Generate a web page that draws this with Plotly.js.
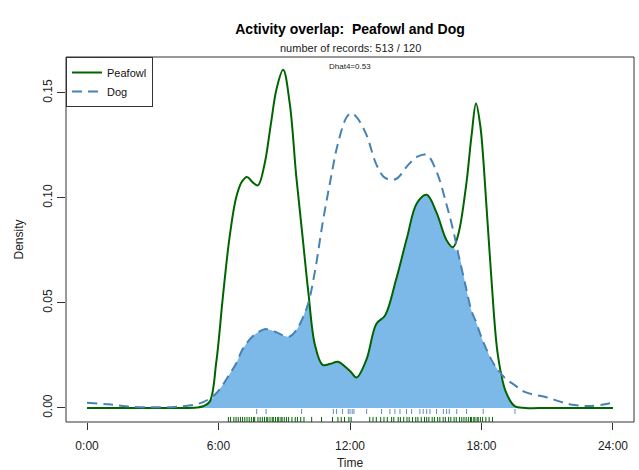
<!DOCTYPE html>
<html>
<head>
<meta charset="utf-8">
<script src="https://cdn.plot.ly/plotly-3.0.1.min.js"></script>
<style>
  html, body { margin: 0; padding: 0; background: #fff; }
  #chart { width: 639px; height: 470px; }
</style>
</head>
<body>
<div id="chart"></div>
<script>
// Kernel density estimates of activity time (hours of the day)
const times = [0, 1, 2, 3, 4, 4.5, 5, 5.3, 5.6, 5.9, 6.2, 6.5, 6.8, 7.05, 7.3, 7.55, 7.8, 8.1, 8.4, 8.65,
  8.95, 9.25, 9.55, 9.85, 10.1, 10.4, 10.75, 11.1, 11.45, 11.85, 12.05, 12.3, 12.75, 13.2, 13.6, 14.1,
  14.6, 15.05, 15.5, 15.95, 16.4, 16.7, 16.95, 17.3, 17.55, 17.75, 17.95, 18.1, 18.45, 18.75, 19.1,
  19.5, 20, 21, 22, 23, 24];

const peafowlDensity = [0, 0, 0, 0, 0, 0, 0.0002, 0.0008, 0.003, 0.022, 0.053, 0.081, 0.100, 0.1075,
  0.110, 0.1075, 0.106, 0.116, 0.136, 0.152, 0.161, 0.145, 0.110, 0.080, 0.055, 0.030, 0.0205, 0.021,
  0.022, 0.019, 0.017, 0.0145, 0.023, 0.040, 0.044, 0.061, 0.081, 0.0975, 0.1015, 0.093, 0.080,
  0.0765, 0.083, 0.106, 0.130, 0.145, 0.134, 0.116, 0.062, 0.025, 0.008, 0.001, 0, 0, 0, 0, 0];

const dogDensity = [0.0025, 0.0017, 0.0006, 0.0003, 0.0005, 0.0009, 0.0018, 0.0028, 0.0045, 0.007,
  0.011, 0.016, 0.021, 0.027, 0.031, 0.034, 0.036, 0.0375, 0.037, 0.036, 0.0345, 0.034, 0.037, 0.043,
  0.050, 0.065, 0.088, 0.108, 0.126, 0.1385, 0.1403, 0.1385, 0.130, 0.116, 0.1095, 0.109, 0.115,
  0.1195, 0.1205, 0.1125, 0.097, 0.085, 0.073, 0.057, 0.046, 0.041, 0.035, 0.031, 0.023, 0.018,
  0.014, 0.011, 0.0075, 0.005, 0.0018, 0.0009, 0.0025];

// Individual record times shown as rugs along the bottom
const dogRecords = [7.74, 8.17, 9.79, 11.24, 11.39, 11.66, 11.92, 12.0, 12.1, 12.18, 12.76, 13.44,
  13.82, 14.05, 14.28, 14.58, 14.81, 15.19, 15.34, 15.5, 15.65, 15.95, 16.26, 16.41, 16.53, 16.87,
  17.32, 18.08, 19.53];

const peafowlRecords = [6.45, 6.55, 6.7, 6.8, 6.9, 7.0, 7.1, 7.2, 7.3, 7.4, 7.5, 7.6, 7.65, 7.8, 7.9,
  8.0, 8.1, 8.2, 8.25, 8.35, 8.45, 8.5, 8.6, 8.7, 8.75, 8.85, 8.9, 9.0, 9.1, 9.2, 9.35, 9.5, 9.6,
  9.75, 9.9, 10.25, 10.7, 11.2, 11.45, 11.6, 11.75, 11.95, 12.05, 12.9, 13.05, 13.2, 13.4, 13.55,
  13.7, 13.9, 14.0, 14.2, 14.3, 14.45, 14.6, 14.7, 14.85, 15.0, 15.1, 15.25, 15.4, 15.5, 15.6, 15.75,
  15.85, 16.0, 16.1, 16.25, 16.35, 16.5, 16.6, 16.75, 16.85, 17.0, 17.1, 17.2, 17.3, 17.4, 17.5,
  17.55, 17.65, 17.7, 17.8, 17.85, 17.95, 18.05, 18.2, 18.35, 18.5];

const tickHours = [0, 6, 12, 18, 24];
const tickLabels = ['0:00', '6:00', '12:00', '18:00', '24:00'];
const densityTicks = [0, 0.05, 0.10, 0.15];

const dhat4 = 0.53;
const nRecords = [513, 120];

// Overlap region: the lower of the two densities at each time
const overlap = times.map((t, i) => Math.min(peafowlDensity[i], dogDensity[i]));

const FONT = 'Liberation Sans, Arial, sans-serif';
const GREEN = '#006400';
const BLUE = '#4682B4';
const RUG_BLUE = '#5f8fc4';

const traces = [
  {
    x: times, y: overlap, type: 'scatter', mode: 'lines',
    line: { width: 0, shape: 'spline', smoothing: 1 },
    fill: 'tozeroy', fillcolor: '#7DB9E8',
    showlegend: false, hoverinfo: 'skip'
  },
  {
    x: times, y: peafowlDensity, type: 'scatter', mode: 'lines', name: 'Peafowl',
    line: { color: GREEN, width: 2, shape: 'spline', smoothing: 1 }
  },
  {
    x: times, y: dogDensity, type: 'scatter', mode: 'lines', name: 'Dog',
    line: { color: BLUE, width: 2, dash: '10px,6px', shape: 'spline', smoothing: 1 }
  },
  {
    x: dogRecords, y: dogRecords.map(() => -0.0017), type: 'scatter', mode: 'markers',
    marker: { symbol: 'line-ns-open', size: 3.6, color: RUG_BLUE, line: { color: RUG_BLUE, width: 1 } },
    showlegend: false, hoverinfo: 'skip'
  },
  {
    x: peafowlRecords, y: peafowlRecords.map(() => -0.0055), type: 'scatter', mode: 'markers',
    marker: { symbol: 'line-ns-open', size: 3.6, color: GREEN, line: { color: GREEN, width: 1 } },
    showlegend: false, hoverinfo: 'skip'
  }
];

const layout = {
  width: 639, height: 470,
  margin: { l: 66, r: 5, t: 57, b: 48 },
  paper_bgcolor: '#fff', plot_bgcolor: '#fff',
  font: { family: FONT, size: 12, color: '#222' },
  title: {
    text: '<b>Activity overlap:  Peafowl and Dog</b>',
    font: { family: FONT, size: 14, color: '#000' },
    x: 0.5, xref: 'paper', xanchor: 'center',
    y: 1 - 29 / 470, yref: 'container', yanchor: 'middle'
  },
  xaxis: {
    range: [-0.96, 24.96],
    tickvals: tickHours, ticktext: tickLabels,
    ticks: 'outside', ticklen: 7, tickcolor: '#333', tickwidth: 1,
    ticklabelstandoff: 6,
    showgrid: false, zeroline: false, showline: false,
    tickfont: { family: FONT, size: 12, color: '#222' },
    title: { text: 'Time', font: { family: FONT, size: 12, color: '#222' }, standoff: 19 }
  },
  yaxis: {
    range: [-0.0067, 0.1671],
    tickvals: densityTicks, tickformat: '.2f',
    tickangle: -90,
    ticks: 'outside', ticklen: 8, tickcolor: '#333', tickwidth: 1,
    showgrid: false, zeroline: false, showline: false,
    tickfont: { family: FONT, size: 12, color: '#222' },
    title: { text: 'Density', font: { family: FONT, size: 12, color: '#222' }, standoff: 15 }
  },
  legend: {
    x: 0, y: 1, xanchor: 'left', yanchor: 'top',
    bgcolor: '#fff', bordercolor: '#333', borderwidth: 1,
    font: { family: FONT, size: 11, color: '#111' },
    tracegroupgap: 0
  },
  shapes: [
    { type: 'rect', xref: 'paper', yref: 'paper', x0: 0, x1: 1, y0: 0, y1: 1,
      line: { color: '#333', width: 1 }, layer: 'above' }
  ],
  annotations: [
    { text: 'number of records: ' + nRecords[0] + ' / ' + nRecords[1],
      xref: 'paper', yref: 'paper', x: 0.5, y: (422 - 48) / 365,
      xanchor: 'center', yanchor: 'middle', showarrow: false,
      font: { family: FONT, size: 11, color: '#222' } },
    { text: 'Dhat4=' + dhat4.toFixed(2),
      xref: 'x', yref: 'paper', x: 12, y: (422 - 66) / 365,
      xanchor: 'center', yanchor: 'middle', showarrow: false,
      font: { family: FONT, size: 8, color: '#222' } }
  ],
  showlegend: true
};

Plotly.newPlot('chart', traces, layout, { displayModeBar: false, staticPlot: true });
</script>
</body>
</html>
